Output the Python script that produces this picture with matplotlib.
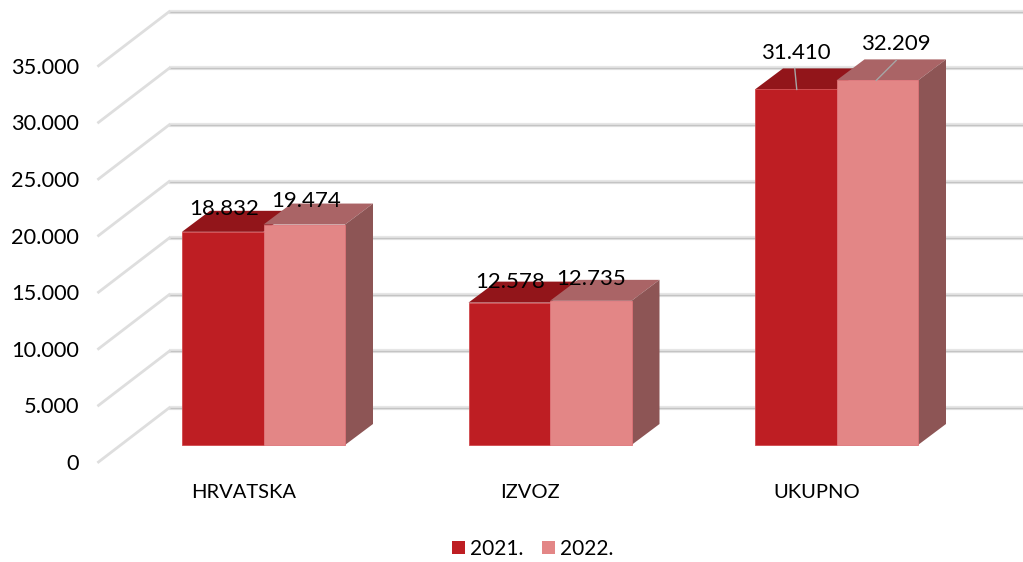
import matplotlib
matplotlib.use('Agg')
import matplotlib.pyplot as plt
from matplotlib.patches import Polygon, Patch

plt.rcParams['font.family'] = ['Lato', 'DejaVu Sans']

# Data
categories = ['HRVATSKA', 'IZVOZ', 'UKUPNO']
years = ['2021.', '2022.']
values_2021 = [18832, 12578, 31410]
values_2022 = [19474, 12735, 32209]
ticks = [0, 5000, 10000, 15000, 20000, 25000, 30000, 35000]
tick_labels = ['0', '5.000', '10.000', '15.000', '20.000', '25.000', '30.000', '35.000']
value_labels_2021 = ['18.832', '12.578', '31.410']
value_labels_2022 = ['19.474', '12.735', '32.209']

# Scale of the picture: pixels per category and per unit of value
PX_CAT = 286.5
PX_VAL = 56.6 / 5000
X0 = 263.5
Y0 = 445

RED = '#BE1E23'
RED_TOP = '#92151A'
PINK = '#E38686'
PINK_TOP = '#AA6466'
PINK_SIDE = '#8D5555'

fig = plt.figure(figsize=(10.23, 5.62), dpi=100)
ax = fig.add_axes([0, 0, 1, 1])
ax.set_xlim(-X0 / PX_CAT, (1023 - X0) / PX_CAT)
ax.set_ylim((Y0 - 562) / PX_VAL, Y0 / PX_VAL)
ax.axis('off')


def dx(px):
    return px / PX_CAT


def dy(px):
    return px / PX_VAL


bar_w = dx(81.5)
depth_x = dx(28)
depth_y = dy(21)

# Back wall grid lines and the slanted lines on the left
left_front = dx(98.5 - X0)
left_back = dx(169 - X0)
right_end = dx(1023 - X0)
for t, label in zip(ticks, tick_labels):
    back_y = t + dy(37)
    front_y = t - dy(17)
    ax.plot([left_back, right_end], [back_y, back_y], color='#E6E6E6', lw=3.0, zorder=1, solid_capstyle='butt')
    ax.plot([left_back, right_end], [back_y, back_y], color='#C4C4C4', lw=1.0, zorder=1, solid_capstyle='butt')
    ax.plot([left_front, left_back], [front_y, back_y], color='#DEDEDE', lw=2.0, zorder=1)
    ax.text(dx(79 - X0), t - dy(19), label, ha='right', va='center', fontsize=15.7, color='black')


def draw_bar(x, value, front, top, edge, side=None):
    ax.add_patch(Polygon([(x, value), (x + bar_w, value), (x + bar_w + depth_x, value + depth_y), (x + depth_x, value + depth_y)],
                         facecolor=top, edgecolor='none', zorder=3))
    if side is not None:
        ax.add_patch(Polygon([(x + bar_w, 0), (x + bar_w + depth_x, depth_y), (x + bar_w + depth_x, value + depth_y), (x + bar_w, value)],
                             facecolor=side, edgecolor='none', zorder=3))
    ax.bar(x, value, width=bar_w, align='edge', color=front, edgecolor=edge, lw=0.6, zorder=4)


# Label offsets from the middle of the bar front, in pixels
label_dx_2021 = [1, 0.5, 0]
label_dx_2022 = [1.5, 0, 19]
label_dy_2021 = [23, 21, 36]
label_dy_2022 = [24, 22, 36]

for i, cat in enumerate(categories):
    draw_bar(i - bar_w, values_2021[i], RED, RED_TOP, '#D0484C')
    draw_bar(i, values_2022[i], PINK, PINK_TOP, '#DE7478', PINK_SIDE)

    ax.text(i - bar_w / 2 + dx(label_dx_2021[i]), values_2021[i] + dy(label_dy_2021[i]), value_labels_2021[i],
            ha='center', va='center', fontsize=16, color='black', zorder=6)
    ax.text(i + bar_w / 2 + dx(label_dx_2022[i]), values_2022[i] + dy(label_dy_2022[i]), value_labels_2022[i],
            ha='center', va='center', fontsize=16, color='black', zorder=6)
    ax.text(i + dx(-20), dy(445 - 493), cat, ha='center', va='center', fontsize=14.5, color='black')

# Leader lines on the last group
ax.plot([2 - bar_w / 2 + dx(1), 2 - bar_w / 2 - dx(1)], [values_2021[2], values_2021[2] + dy(21)],
        color='#A6A6A6', lw=1, zorder=5)
ax.plot([2 + bar_w / 2 - dx(1), 2 + bar_w / 2 + dx(19)], [values_2022[2], values_2022[2] + dy(20)],
        color='#A6A6A6', lw=1, zorder=5)

handles = [Patch(facecolor=RED, label=years[0]), Patch(facecolor=PINK, label=years[1])]
ax.legend(handles=handles, loc='center', bbox_to_anchor=(0.521, 1 - 549 / 562), ncol=2, frameon=False,
          fontsize=15, handlelength=0.63, handleheight=0.63, handletextpad=0.24, columnspacing=0.9)

fig.savefig('out.png', dpi=100)
